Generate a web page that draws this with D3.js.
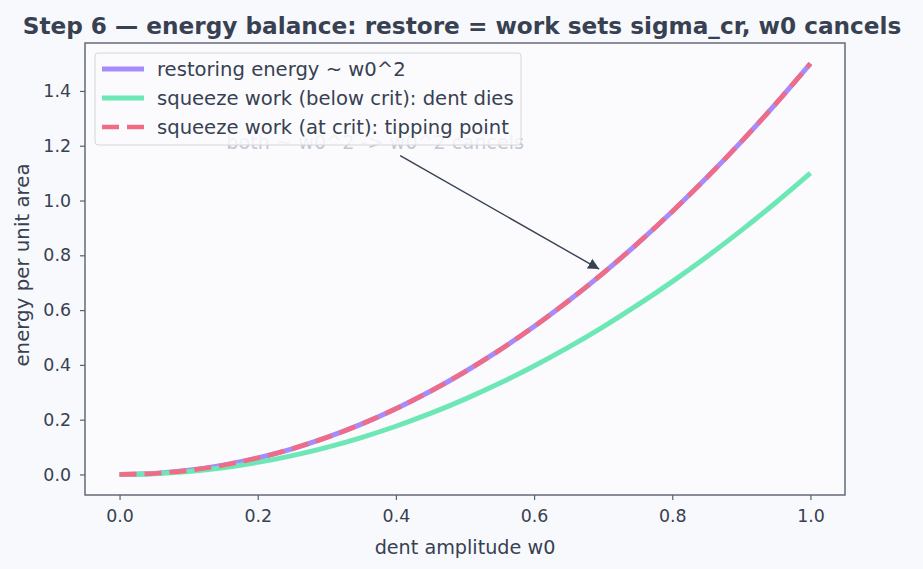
<!DOCTYPE html>
<html><head><meta charset="utf-8">
<script src="https://cdn.jsdelivr.net/npm/d3@7"></script>
<style>
body{margin:0;background:#f8f9fc;}
svg{display:block;font-family:"DejaVu Sans",sans-serif;}
</style></head>
<body><svg id="c" width="923" height="569"></svg>
<script>
const w0 = [0,0.05,0.1,0.15,0.2,0.25,0.3,0.35,0.4,0.45,0.5,0.55,0.6,0.65,0.7,0.75,0.8,0.85,0.9,0.95,1.0];
const restoring = [0,0.00375,0.015,0.03375,0.06,0.09375,0.135,0.18375,0.24,0.30375,0.375,0.45375,0.54,0.63375,0.735,0.84375,0.96,1.08375,1.215,1.35375,1.5];
const belowCrit = [0,0.00275,0.011,0.02475,0.044,0.06875,0.099,0.13475,0.176,0.22275,0.275,0.33275,0.396,0.46475,0.539,0.61875,0.704,0.79475,0.891,0.99275,1.1];
const atCrit = restoring.slice();
const xTicks = [0,0.2,0.4,0.6,0.8,1.0];
const yTicks = [0,0.2,0.4,0.6,0.8,1.0,1.2,1.4];
const seriesNames = ["restoring energy ~ w0^2","squeeze work (below crit): dent dies","squeeze work (at crit): tipping point"];
const annText = "both ~ w0^2 -> w0^2 cancels";
const annPoint = [0.7, 0.735];
const annTextPos = [0.37, 1.215];

const svg = d3.select("#c");
const L=85,R=845,T=43,B=495;
const x = d3.scaleLinear().domain([-0.05,1.05]).range([L,R]);
const y = d3.scaleLinear().domain([-0.075,1.575]).range([B,T]);
const ink="#374151", spine="#5b6070";

svg.append("rect").attr("width",923).attr("height",569).attr("fill","#f8f9fc");
svg.append("rect").attr("x",L).attr("y",T).attr("width",R-L).attr("height",B-T).attr("fill","#fbfbfe");

svg.append("text").attr("x",462).attr("y",34).attr("text-anchor","middle")
  .attr("font-size",23.2).attr("font-weight","bold").attr("fill",ink)
  .text("Step 6 — energy balance: restore = work sets sigma_cr, w0 cancels");

const xa = svg.append("g").attr("transform",`translate(0,${B})`)
  .call(d3.axisBottom(x).tickValues(xTicks).tickFormat(d3.format(".1f")).tickSize(5).tickSizeOuter(0));
const ya = svg.append("g").attr("transform",`translate(${L},0)`)
  .call(d3.axisLeft(y).tickValues(yTicks).tickFormat(d3.format(".1f")).tickSize(5).tickSizeOuter(0));
[xa,ya].forEach(a=>{
  a.select(".domain").remove();
  a.selectAll(".tick line").attr("stroke",spine).attr("stroke-width",1.2);
  a.selectAll(".tick text").attr("fill",ink).attr("font-size",17.4).attr("font-family","DejaVu Sans");
});
xa.selectAll(".tick text").attr("y",10).attr("dy","0.95em");
ya.selectAll(".tick text").attr("x",-14);

svg.append("text").attr("x",(L+R)/2).attr("y",554).attr("text-anchor","middle")
  .attr("font-size",19.2).attr("fill",ink).text("dent amplitude w0");
svg.append("text").attr("transform",`translate(29,${(T+B)/2 - 4}) rotate(-90)`).attr("text-anchor","middle")
  .attr("font-size",19.8).attr("fill",ink).text("energy per unit area");

const line = vals => d3.line().x((d,i)=>x(w0[i])).y(d=>y(d)).curve(d3.curveMonotoneX)(vals);
svg.append("path").attr("d",line(restoring)).attr("fill","none").attr("stroke","#a78bfa").attr("stroke-width",5);
svg.append("path").attr("d",line(belowCrit)).attr("fill","none").attr("stroke","#6ee7b7").attr("stroke-width",5);
svg.append("path").attr("d",line(atCrit)).attr("fill","none").attr("stroke","#f06c84").attr("stroke-width",4.6).attr("stroke-dasharray","17,8");

// annotation text (behind legend, as in the reference)
svg.append("text").attr("x",x(annTextPos[0])).attr("y",y(annTextPos[1])+7).attr("text-anchor","middle")
  .attr("font-size",19.2).attr("fill","#c3c7cf").text(annText);
// arrow
svg.append("defs").append("marker").attr("id","ah").attr("viewBox","0 0 10 10").attr("refX",10).attr("refY",5)
  .attr("markerWidth",11).attr("markerHeight",11).attr("markerUnits","userSpaceOnUse").attr("orient","auto")
  .append("path").attr("d","M0,0 L10,5 L0,10 z").attr("fill","#374151");
const ax0=x(annTextPos[0])+25, ay0=y(annTextPos[1])+14, ax1=x(annPoint[0])-4, ay1=y(annPoint[1])-4;
svg.append("line").attr("x1",ax0).attr("y1",ay0).attr("x2",ax1).attr("y2",ay1)
  .attr("stroke","#374151").attr("stroke-width",1.4).attr("marker-end","url(#ah)");

// legend
const lg = svg.append("g");
lg.append("rect").attr("x",95).attr("y",53).attr("width",426).attr("height",92).attr("rx",3)
  .attr("fill","#fbfbfe").attr("fill-opacity",0.8).attr("stroke","#d4d6db").attr("stroke-width",1);
const lcol=["#a78bfa","#6ee7b7","#f06c84"];
seriesNames.forEach((n,i)=>{
  const yy=69+i*29;
  lg.append("line").attr("x1",102).attr("x2",144).attr("y1",yy).attr("y2",yy).attr("stroke",lcol[i])
    .attr("stroke-width",i==2?4.6:5).attr("stroke-dasharray",i==2?"17,8":null);
  lg.append("text").attr("x",157).attr("y",yy+7).attr("font-size",19.6).attr("fill",ink).text(n);
});

// frame
svg.append("rect").attr("x",L).attr("y",T).attr("width",R-L).attr("height",B-T)
  .attr("fill","none").attr("stroke",spine).attr("stroke-width",1.4);
</script></body></html>
